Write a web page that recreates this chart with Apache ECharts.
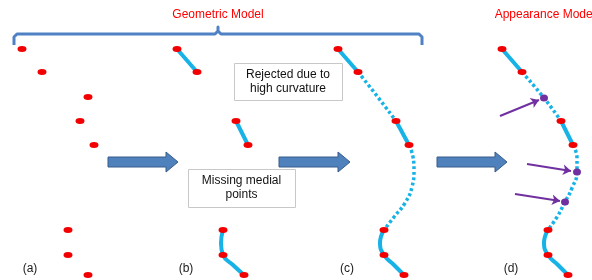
<!DOCTYPE html>
<html>
<head>
<meta charset="utf-8">
<script src="https://cdn.jsdelivr.net/npm/echarts@6/dist/echarts.min.js"></script>
<style>
  html, body { margin: 0; padding: 0; background: #fff; }
  #main { width: 592px; height: 280px; }
</style>
</head>
<body>
<div id="main"></div>
<script>
  // medial points (diagram units, y grows downwards)
  var redDots = [
    [22, 49], [42, 72], [88, 97], [80, 121], [94, 145], [68, 230], [68, 255], [88, 275],
    [177, 49], [197, 72], [244, 97], [236, 121], [248, 145], [223, 230], [223, 255], [244, 275],
    [338, 49], [358, 72], [396, 121], [409, 145], [384, 230], [384, 255], [404, 275],
    [502, 49], [522, 72], [561, 121], [573, 145], [548, 230], [548, 255], [568, 275]
  ];
  var purpleDots = [[544, 98], [577, 172], [565, 202]];

  // fitted centre line pieces
  var solidPaths = [
    [[177, 49], [197, 72]],
    [[236, 121], [248, 145]],
    [[223, 230], [221, 243], [223, 255], [233, 265], [244, 275]],
    [[338, 49], [358, 72]],
    [[396, 121], [409, 145]],
    [[384, 230], [380, 243], [384, 255], [394, 265], [404, 275]],
    [[502, 49], [522, 72]],
    [[561, 121], [573, 145]],
    [[548, 230], [544, 243], [548, 255], [558, 265], [568, 275]]
  ];
  var dottedPaths = [
    [[358, 72], [377, 96], [396, 121]],
    [[409, 145], [413, 157], [414, 170], [412, 187], [405, 203], [394, 217], [384, 230]],
    [[522, 72], [544, 98], [561, 121]],
    [[573, 145], [577, 158], [577, 172], [572, 188], [565, 202], [557, 217], [548, 230]]
  ];

  var purpleArrows = [
    [[500, 116], [539, 100]],
    [[527, 164], [571, 171]],
    [[515, 194], [560, 201]]
  ];
  // [start x, tip x, y]
  var blockArrows = [[108, 178, 162], [279, 350, 162], [437, 507, 162]];

  var brace = [
    [14, 45], [14, 37], [17, 34], [215, 34], [218, 31], [218, 27],
    [218, 31], [221, 34], [419, 34], [422, 37], [422, 45]
  ];

  var captions = [
    { x: 218, y: 15, text: 'Geometric Model', color: '#ff0000' },
    { x: 545, y: 15, text: 'Appearance Model', color: '#ff0000' },
    { x: 30, y: 269, text: '(a)', color: '#1a1a1a' },
    { x: 186, y: 269, text: '(b)', color: '#1a1a1a' },
    { x: 347, y: 269, text: '(c)', color: '#1a1a1a' },
    { x: 511, y: 269, text: '(d)', color: '#1a1a1a' }
  ];
  var notes = [
    { box: [234, 63, 342, 100], text: 'Rejected due to\nhigh curvature' },
    { box: [188, 169, 295, 207], text: 'Missing medial\npoints' }
  ];

  var FONT = '"Liberation Sans", Arial, sans-serif';
  var series = [];

  series.push({
    type: 'line',
    data: brace,
    showSymbol: false,
    symbol: 'none',
    lineStyle: { color: '#4f81c4', width: 3, join: 'round' },
    z: 1,
    silent: true
  });

  solidPaths.forEach(function (p) {
    series.push({
      type: 'line',
      data: p,
      smooth: p.length > 2 ? 0.5 : false,
      symbol: 'none',
      lineStyle: { color: '#17b2e6', width: 4, cap: 'round' },
      z: 2
    });
  });
  dottedPaths.forEach(function (p) {
    series.push({
      type: 'line',
      data: p,
      smooth: 0.5,
      symbol: 'none',
      lineStyle: { color: '#17b2e6', width: 3.5, type: [3, 2.5] },
      z: 2
    });
  });

  series.push({
    type: 'lines',
    coordinateSystem: 'cartesian2d',
    data: purpleArrows.map(function (c) { return { coords: c }; }),
    symbol: ['none', 'arrow'],
    symbolSize: 8,
    lineStyle: { color: '#7030a0', width: 2, opacity: 1 },
    z: 3
  });

  series.push({
    type: 'scatter',
    data: redDots,
    symbol: 'circle',
    symbolSize: [9, 6],
    itemStyle: { color: '#f20000', opacity: 1 },
    z: 4
  });
  series.push({
    type: 'scatter',
    data: purpleDots,
    symbol: 'circle',
    symbolSize: [8, 7],
    itemStyle: { color: '#7030a0', opacity: 1 },
    z: 4
  });

  series.push({
    type: 'custom',
    data: blockArrows,
    encode: { x: [0, 1], y: 2 },
    renderItem: function (params, api) {
      var a = api.coord([api.value(0), api.value(2)]);
      var b = api.coord([api.value(1), api.value(2)]);
      var head = 12, bw = 5, hw = 10;
      return {
        type: 'polygon',
        shape: {
          points: [
            [a[0], a[1] - bw], [b[0] - head, a[1] - bw], [b[0] - head, a[1] - hw],
            [b[0], a[1]], [b[0] - head, a[1] + hw], [b[0] - head, a[1] + bw], [a[0], a[1] + bw]
          ]
        },
        style: { fill: '#4f81bd', stroke: '#385d8a', lineWidth: 1 }
      };
    },
    z: 3
  });

  series.push({
    type: 'custom',
    data: notes.map(function (n) { return n.box; }),
    encode: { x: [0, 2], y: [1, 3] },
    renderItem: function (params, api) {
      var p0 = api.coord([api.value(0), api.value(1)]);
      var p1 = api.coord([api.value(2), api.value(3)]);
      return {
        type: 'group',
        children: [{
          type: 'rect',
          shape: { x: p0[0] + 0.5, y: p0[1] + 0.5, width: p1[0] - p0[0], height: p1[1] - p0[1] },
          style: { fill: '#fff', stroke: '#c8c8c8', lineWidth: 1 }
        }, {
          type: 'text',
          style: {
            x: (p0[0] + p1[0]) / 2, y: (p0[1] + p1[1]) / 2,
            text: notes[params.dataIndex].text,
            align: 'center', verticalAlign: 'middle',
            font: '12px ' + FONT, lineHeight: 14, fill: '#111'
          }
        }]
      };
    },
    z: 5
  });

  series.push({
    type: 'custom',
    data: captions.map(function (c) { return [c.x, c.y]; }),
    renderItem: function (params, api) {
      var p = api.coord([api.value(0), api.value(1)]);
      var c = captions[params.dataIndex];
      return {
        type: 'text',
        style: {
          x: p[0], y: p[1], text: c.text,
          align: 'center', verticalAlign: 'middle',
          font: '12px ' + FONT, fill: c.color
        }
      };
    },
    z: 6
  });

  var option = {
    animation: false,
    backgroundColor: '#fff',
    grid: { left: 0, right: 0, top: 0, bottom: 0 },
    xAxis: { type: 'value', min: 0, max: 592, show: false },
    yAxis: { type: 'value', min: 0, max: 280, inverse: true, show: false },
    series: series
  };

  echarts.init(document.getElementById('main')).setOption(option);
</script>
</body>
</html>
